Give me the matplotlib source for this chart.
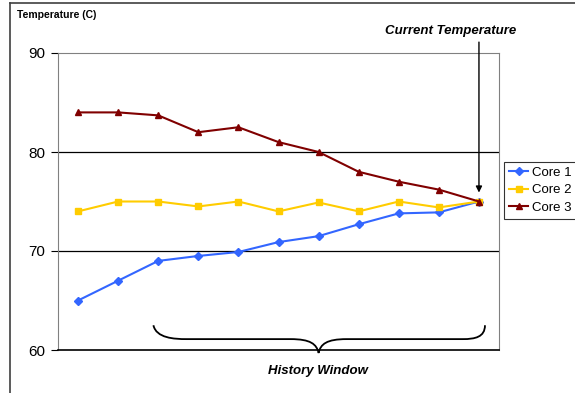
import matplotlib.pyplot as plt
from matplotlib.lines import Line2D
from matplotlib.path import Path
from matplotlib.patches import PathPatch

plt.rcParams['font.family'] = ['Liberation Sans', 'DejaVu Sans']

samples = list(range(11))
core1 = [65, 67, 69, 69.5, 69.9, 70.9, 71.5, 72.7, 73.8, 73.9, 75]
core2 = [74, 75, 75, 74.5, 75, 74, 74.9, 74, 75, 74.4, 75]
core3 = [84, 84, 83.7, 82, 82.5, 81, 80, 78, 77, 76.2, 75]
y_ticks = [60, 70, 80, 90]

fig = plt.figure(figsize=(5.75, 3.93), dpi=100)
ax = fig.add_axes([58 / 575, 43 / 393, 441 / 575, 297 / 393])

ax.plot(samples, core1, color='#3366ff', marker='D', markersize=4, lw=1.5, label='Core 1')
ax.plot(samples, core2, color='#ffcc00', marker='s', markersize=5, lw=1.5, label='Core 2')
ax.plot(samples, core3, color='#800000', marker='^', markersize=5, lw=1.5, label='Core 3')

ax.set_xlim(-0.5, 10.5)
ax.set_ylim(60, 90)
ax.set_yticks(y_ticks)
ax.set_xticks([])
ax.tick_params(axis='y', direction='out', length=5, labelsize=11, pad=4)
for y in y_ticks[1:-1]:
    ax.axhline(y, color='black', lw=0.9, zorder=0)
ax.spines['top'].set_color('#808080')
ax.spines['right'].set_color('#808080')
ax.spines['left'].set_color('#808080')
ax.spines['bottom'].set_color('black')
ax.spines['bottom'].set_linewidth(1.2)

leg = ax.legend(loc='upper left', bbox_to_anchor=(504 / 575, 231 / 393),
                bbox_transform=fig.transFigure, frameon=True, fancybox=False,
                fontsize=9.5, handlelength=1.5, borderpad=0.35, labelspacing=0.4,
                handletextpad=0.25, borderaxespad=0)
leg.get_frame().set_edgecolor('black')
leg.get_frame().set_linewidth(0.8)

# brace under the history window
brace = Path(
    [(1.88, 62.5), (1.95, 61.2), (2.4, 61.1), (2.7, 61.1),
     (5.3, 61.1),
     (5.8, 61.1), (5.95, 60.6), (6.0, 59.7),
     (6.05, 60.6), (6.2, 61.1), (6.7, 61.1),
     (9.6, 61.1),
     (9.9, 61.1), (10.15, 61.3), (10.15, 62.5)],
    [Path.MOVETO, Path.CURVE4, Path.CURVE4, Path.CURVE4,
     Path.LINETO,
     Path.CURVE4, Path.CURVE4, Path.CURVE4,
     Path.CURVE4, Path.CURVE4, Path.CURVE4,
     Path.LINETO,
     Path.CURVE4, Path.CURVE4, Path.CURVE4])
ax.add_patch(PathPatch(brace, fill=False, lw=1.3, color='black', clip_on=False))

ax.annotate('', xy=(10, 75.9), xytext=(10, 91.1), textcoords='data',
            arrowprops=dict(arrowstyle='-|>', color='black', lw=1.0,
                            mutation_scale=9, shrinkA=0, shrinkB=0),
            annotation_clip=False)

fig.text(451 / 575, 1 - 31 / 393, 'Current Temperature', fontsize=9.5,
         fontweight='bold', fontstyle='italic', ha='center', va='center')
fig.text(318 / 575, 1 - 371 / 393, 'History Window', fontsize=9.5,
         fontweight='bold', fontstyle='italic', ha='center', va='center')
fig.text(17 / 575, 1 - 15 / 393, 'Temperature (C)', fontsize=7.5,
         fontweight='bold', ha='left', va='center')

# outer chart frame
fig.add_artist(Line2D([10 / 575, 10 / 575], [0, 1 - 3 / 393], color='#404040', lw=1.2))
fig.add_artist(Line2D([10 / 575, 1], [1 - 3 / 393, 1 - 3 / 393], color='#404040', lw=1.2))

fig.savefig('out.png', dpi=100)
